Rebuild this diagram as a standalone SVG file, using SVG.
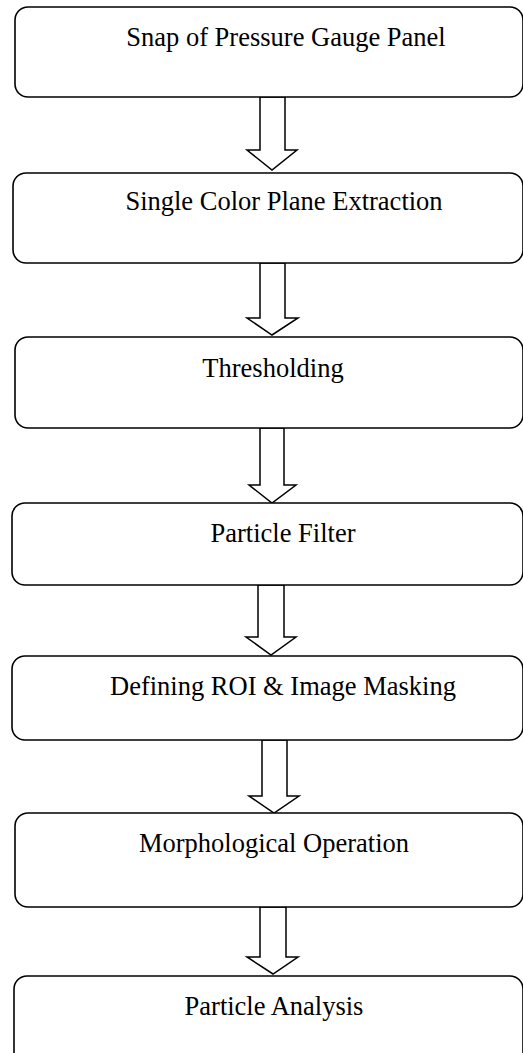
<svg xmlns="http://www.w3.org/2000/svg" width="523" height="1053" viewBox="0 0 523 1053">
<style>
.box{fill:#fff;stroke:#000;stroke-width:1.6}
.lbl{font-family:"Liberation Serif","Times New Roman",serif;font-size:26.5px;fill:#000;text-anchor:middle}
.arr{fill:#fff;stroke:#000;stroke-width:1.5;stroke-linejoin:miter}
</style>
<rect width="523" height="1053" fill="#fff"/>
<g id="connectors">
<polygon class="arr" points="260,97 285,97 285,150 297,150 272,170 247,150 260,150"/>
<polygon class="arr" points="260,263 285,263 285,318 298,318 272,335 247,318 260,318"/>
<polygon class="arr" points="260,428 284,428 284,485 296,485 272,503 249,485 260,485"/>
<polygon class="arr" points="258,585 284,585 284,637 296,637 271,655 246,637 258,637"/>
<polygon class="arr" points="262,740 287,740 287,796 299,796 274,813 249,796 262,796"/>
<polygon class="arr" points="260,907 286,907 286,957 298,957 273,974 247,957 260,957"/>
</g>
<g id="n1"><rect class="box" x="15" y="7" width="508" height="90" rx="13"/><text class="lbl" x="286" y="46">Snap of Pressure Gauge Panel</text></g>
<g id="n2"><rect class="box" x="13" y="173" width="510" height="90" rx="13"/><text class="lbl" x="284" y="210">Single Color Plane Extraction</text></g>
<g id="n3"><rect class="box" x="15" y="337" width="508" height="91" rx="13"/><text class="lbl" x="273" y="377">Thresholding</text></g>
<g id="n4"><rect class="box" x="12" y="503" width="511" height="82" rx="13"/><text class="lbl" x="283" y="542">Particle Filter</text></g>
<g id="n5"><rect class="box" x="12" y="656" width="511" height="84" rx="13"/><text class="lbl" x="283" y="695">Defining ROI &amp; Image Masking</text></g>
<g id="n6"><rect class="box" x="15" y="813" width="508" height="94" rx="13"/><text class="lbl" x="274" y="852">Morphological Operation</text></g>
<g id="n7"><rect class="box" x="14" y="976" width="509" height="95" rx="13"/><text class="lbl" x="274" y="1015">Particle Analysis</text></g>
</svg>
